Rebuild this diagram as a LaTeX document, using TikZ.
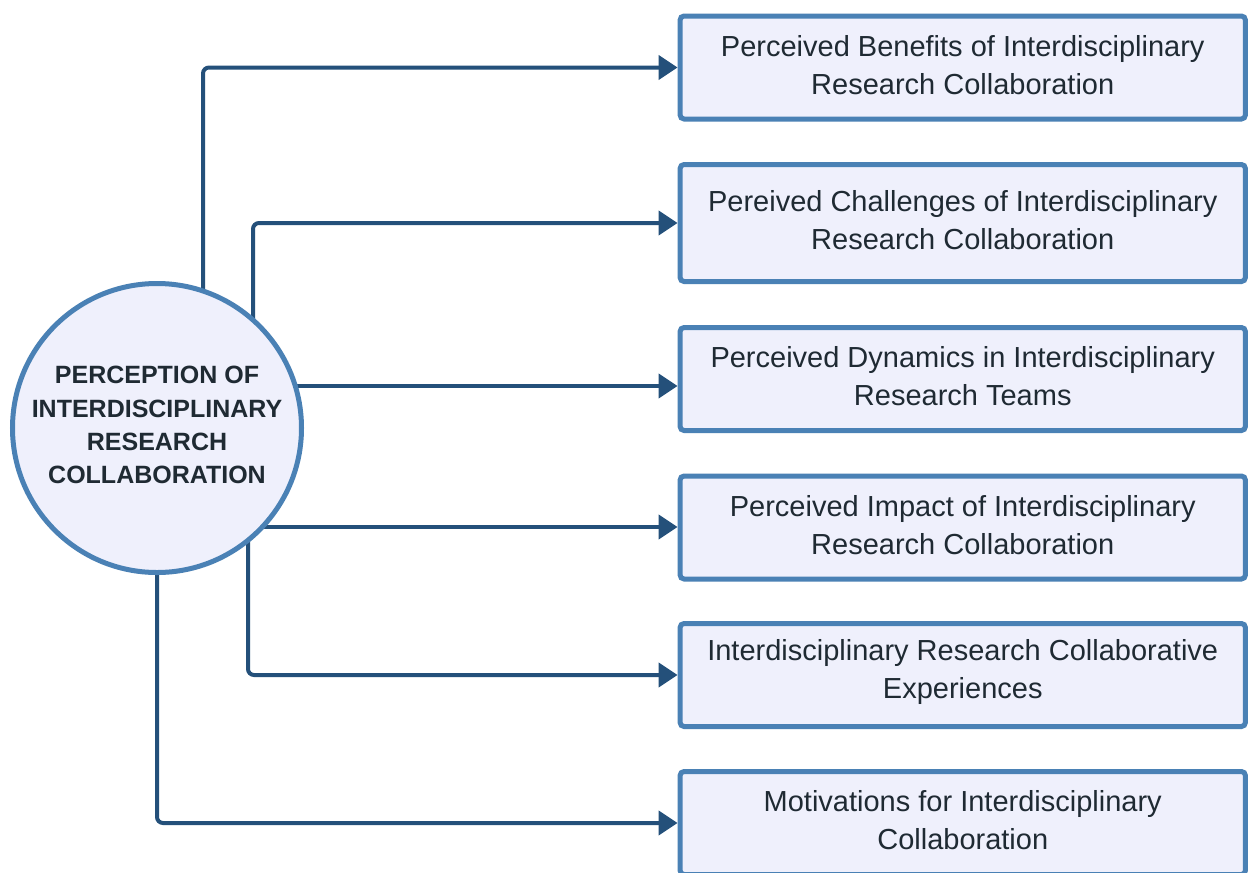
\documentclass[tikz,border=0pt]{standalone}
\usepackage{fontspec}
\setmainfont{Liberation Sans}
\usetikzlibrary{arrows.meta,backgrounds}
\definecolor{boxedge}{HTML}{4A81B5}
\definecolor{boxfill}{HTML}{EFF0FC}
\definecolor{wire}{HTML}{24507A}
\definecolor{ink}{HTML}{1F2A33}
\begin{document}
\begin{tikzpicture}[x=0.75pt,y=-0.75pt,
  topic/.style={draw=boxedge, fill=boxfill, line width=3.75pt, rounded corners=3pt,
    minimum width=424pt, minimum height=77.25pt, inner sep=0pt, align=center,
    text depth=4.5pt, text=ink, font=\fontsize{21.75}{28.5}\selectfont},
  hubnode/.style={circle, draw=boxedge, fill=boxfill, line width=3.75pt,
    minimum size=216.75pt, inner sep=0pt, align=center, text=ink,
    text depth=4.5pt, font=\bfseries\fontsize{18.75}{25}\selectfont},
  link/.style={draw=wire, line width=3pt, rounded corners=4.5pt,
    -{Triangle[length=14.25pt,width=18pt]}}]
\useasboundingbox (0,0) rectangle (1250,872);

% central concept
\node[hubnode] (hub) at (157,428)
  {PERCEPTION OF\\INTERDISCIPLINARY\\RESEARCH\\COLLABORATION};

% themes
\node[topic] (b1) at (962.75,67.5)
  {Perceived Benefits of Interdisciplinary\\Research Collaboration};
\node[topic, minimum height=87.75pt] (b2) at (962.75,223)
  {Pereived Challenges of Interdisciplinary\\Research Collaboration};
\node[topic] (b3) at (962.75,379)
  {Perceived Dynamics in Interdisciplinary\\Research Teams};
\node[topic] (b4) at (962.75,527.5)
  {Perceived Impact of Interdisciplinary\\Research Collaboration};
\node[topic, text depth=9pt] (b5) at (962.75,675)
  {Interdisciplinary Research Collaborative\\Experiences};
\node[topic] (b6) at (962.75,823)
  {Motivations for Interdisciplinary\\Collaboration};

% connector origins, hidden behind the circle
\coordinate (o1) at (203,428);
\coordinate (o2) at (253,428);
\coordinate (o3) at (157,386);
\coordinate (o4) at (157,527);
\coordinate (o5) at (248,428);
\coordinate (o6) at (157,428);

\begin{scope}[on background layer]
  \fill[white] (0,0) rectangle (1250,872);
  \draw[link] (o1) |- (b1.west);
  \draw[link] (o2) |- (b2.west);
  \draw[link] (o3) -- (o3 -| b3.west);
  \draw[link] (o4) -- (o4 -| b4.west);
  \draw[link] (o5) |- (b5.west);
  \draw[link] (o6) |- (b6.west);
\end{scope}
\end{tikzpicture}
\end{document}
